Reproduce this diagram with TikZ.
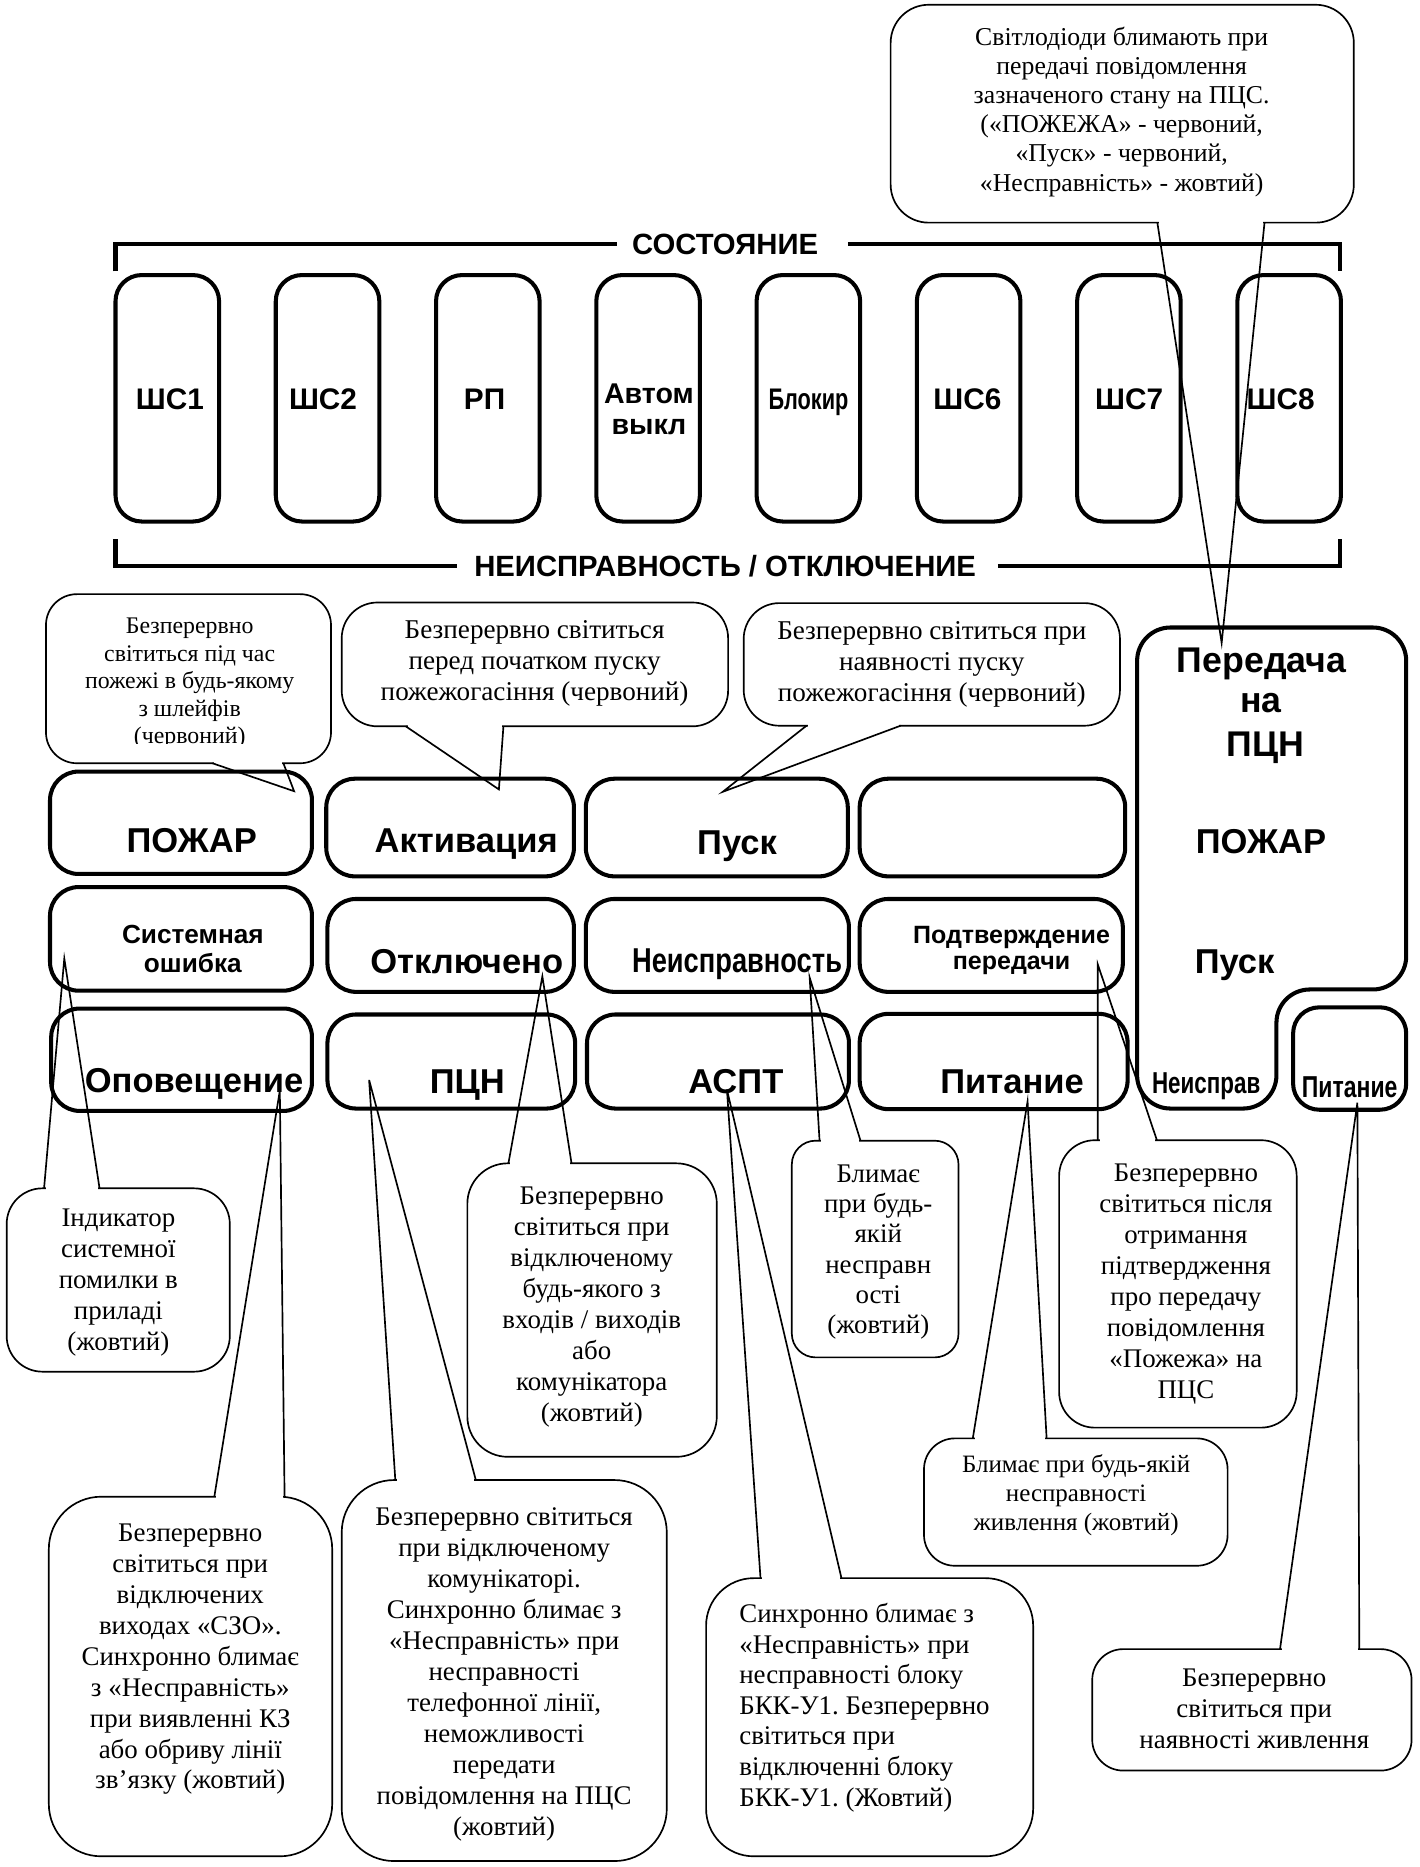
\documentclass[tikz,border=0pt]{standalone}
\usepackage{fontspec}
\setmainfont{Liberation Serif}
\setsansfont{Liberation Sans}
\usepackage{graphicx}
\usetikzlibrary{calc}
\frenchspacing
\newcommand\ctail[5]{%
  \draw[gap] ($(#1.#2 west)+(#3+1.5,0)$) -- ($(#1.#2 west)+(#4-1.5,0)$);
  \draw[tail] ($(#1.#2 west)+(#3,0)$) -- (#5) -- ($(#1.#2 west)+(#4,0)$);}
\begin{document}
\begin{tikzpicture}[x=0.5pt,y=-0.5pt,
  wh/.style 2 args={minimum width=#1*0.5pt, minimum height=#2*0.5pt},
  box/.style={draw, line width=1.7pt, rounded corners=12pt, inner sep=0pt, outer sep=0pt},
  pill/.style={box, rounded corners=11pt},
  brk/.style={line width=1.7pt},
  call/.style={draw, line width=0.7pt, inner sep=0pt, outer sep=0pt},
  tail/.style={line width=0.7pt},
  gap/.style={white, line width=2pt},
  ct/.style={font=\fontsize{11.3}{13}\selectfont, align=center, inner sep=0pt},
  lb/.style={font=\sffamily\bfseries\fontsize{14.5}{16}\selectfont, inner sep=0pt, anchor=base},
  lbp/.style={font=\sffamily\bfseries\fontsize{15}{16}\selectfont, inner sep=0pt, anchor=base},
  lbm/.style={font=\sffamily\bfseries\fontsize{12.5}{14}\selectfont, inner sep=0pt, anchor=base},
  lbn/.style={font=\sffamily\bfseries\fontsize{12.7}{14}\selectfont, inner sep=0pt, anchor=base},
  lbs/.style={font=\sffamily\bfseries\fontsize{11}{12}\selectfont, inner sep=0pt, anchor=base},
  lbx/.style={font=\sffamily\bfseries\fontsize{10.5}{12}\selectfont, inner sep=0pt, anchor=base},
  hdr/.style={font=\sffamily\bfseries\fontsize{12.3}{14}\selectfont, inner sep=0pt, anchor=base}]
\useasboundingbox (0,0) rectangle (1192,1568);

% ---------- bracket with headers ----------
\draw[brk] (97,228) -- (97,205) -- (518,205);
\draw[brk] (712,205) -- (1125,205) -- (1125,228);
\node[hdr] (hSost) at (609,213.8) {СОСТОЯНИЕ};
\draw[brk] (97,453) -- (97,475) -- (384,475);
\draw[brk] (838,475) -- (1125,475) -- (1125,453);
\node[hdr] (hNeisp) at (609,484) {НЕИСПРАВНОСТЬ / ОТКЛЮЧЕНИЕ};

% ---------- top pills ----------
\node[pill, wh={87}{207}] (s1) at (140.5,334.5) {};
\node[pill, wh={87}{207}] (s2) at (275.1,334.5) {};
\node[pill, wh={87}{207}] (s3) at (409.7,334.5) {};
\node[pill, wh={87}{207}] (s4) at (544.3,334.5) {};
\node[pill, wh={87}{207}] (s5) at (678.9,334.5) {};
\node[pill, wh={87}{207}] (s6) at (813.5,334.5) {};
\node[pill, wh={87}{207}] (s7) at (948.1,334.5) {};
\node[pill, wh={87}{207}] (s8) at (1082.7,334.5) {};
\node[lbm] (ls1) at (142.7,344) {ШС1};
\node[lbm] (ls2) at (271.3,344) {ШС2};
\node[lbm] (ls3) at (407,344) {РП};
\node[lbm, font=\sffamily\bfseries\fontsize{12}{14}\selectfont] (ls4a) at (545,339.2) {Автом};
\node[lbm, font=\sffamily\bfseries\fontsize{12}{14}\selectfont] (ls4b) at (545,365) {выкл};
\node[lbm] (ls5) at (679,344) {\scalebox{0.73}[1]{Блокир}};
\node[lbm] (ls6) at (812.4,344) {ШС6};
\node[lbm] (ls7) at (948.3,344) {ШС7};
\node[lbm] (ls8) at (1075.5,344) {ШС8};

% ---------- indicator grid ----------
\node[box, wh={220}{86}] (r11) at (152,691) {};
\node[box, wh={208}{82}] (r12) at (378,695) {};
\node[box, wh={220}{82}] (r13) at (602,695) {};
\node[box, wh={223}{82}] (r14) at (833.5,695) {};
\node[box, wh={220}{87}] (r21) at (152,788.5) {};
\node[box, wh={207}{78}] (r22) at (378.5,794) {};
\node[box, wh={221}{78}] (r23) at (602.5,794) {};
\node[box, wh={221}{78}] (r24) at (832.5,794) {};
\node[box, wh={219}{86}] (r31) at (152.5,890) {};
\node[box, wh={208}{79}] (r32) at (379,891.5) {};
\node[box, wh={220}{79}] (r33) at (603,891.5) {};
\node[box, wh={225}{80}] (r34) at (834.5,891.5) {};

\node[lb] (l11) at (161,716) {ПОЖАР};
\node[lb] (l12) at (391.5,716) {Активация};
\node[lb] (l13) at (619,717.5) {Пуск};
\node[lbs] (l21a) at (162,792.3) {Системная};
\node[lbs] (l21b) at (162,816.4) {ошибка};
\node[lb] (l22) at (392,817.4) {Отключено};
\node[lb] (l23) at (619,817) {\scalebox{0.79}[1]{Неисправность}};
\node[lbx] (l24a) at (849.5,792.5) {Подтверждение};
\node[lbx] (l24b) at (849.5,814.2) {передачи};
\node[lb] (l31) at (163,917.4) {Оповещение};
\node[lb] (l32) at (392.5,918) {ПЦН};
\node[lb] (l33) at (618,918) {АСПТ};
\node[lb] (l34) at (850,918) {Питание};

% ---------- transmission block ----------
\draw[line width=1.7pt, rounded corners=14pt] (955,527) -- (1181,527) -- (1181,831)
   -- (1072,831) -- (1072,931) -- (955,931) -- cycle;
\node[box, rounded corners=11pt, wh={95}{86}] (rPit) at (1133.5,889) {};
\node[lbp] (p1) at (1059.5,565) {Передача};
\node[lbp] (p2) at (1059,598.3) {на};
\node[lbp] (p3) at (1063,635.7) {ПЦН};
\node[lb] (p4) at (1059,716.4) {ПОЖАР};
\node[lb, anchor=base west] (p5) at (1003,817.4) {Пуск};
\node[lbn] (p6) at (1013,918) {\scalebox{0.74}[1]{Неисправ}};
\node[lbn] (p7) at (1133.5,922) {\scalebox{0.76}[1]{Питание}};

% ---------- tip points ----------
\coordinate (pTop) at (1026,540);
\coordinate (pPozh) at (247,664.5);
\coordinate (pAkt) at (419,663);
\coordinate (pPusk) at (607,665);
\coordinate (pSys) at (54,805);
\coordinate (pOpov) at (235,916);
\coordinate (pPcn) at (310,907);
\coordinate (pOtkl) at (455.5,820);
\coordinate (pNeisp) at (680,821);
\coordinate (pPodt) at (922,810);
\coordinate (pPit) at (863,925);
\coordinate (pPit2) at (1140,926);
\coordinate (pAspt) at (610.5,915);

% ---------- callouts ----------
\node[call, rounded corners=16pt, wh={389}{183}] (cTop) at (942.5,95.5) {};
\node[ct, font=\fontsize{10.8}{12.2}\selectfont] (tTop) at (942,94)
  {Світлодіоди блимають при\\передачі повідомлення\\зазначеного стану на ПЦС.\\(«ПОЖЕЖА» - червоний,\\«Пуск» - червоний,\\«Несправність» - жовтий)};

\node[call, rounded corners=13pt, wh={239.4}{142}] (cPozh) at (158.3,570) {};
\node[ct, font=\fontsize{10}{11.5}\selectfont] (tPozh) at (159.3,574)
  {Безперервно\\світиться під час\\пожежі в будь-якому\\з шлейфів\\(червоний)};
\fill[white] (90,624.5) rectangle (230,639.3);

\node[call, rounded corners=15pt, wh={324.5}{104}] (cAkt) at (449.25,558) {};
\node[ct, font=\fontsize{11.4}{13.1}\selectfont] (tAkt) at (449,557)
  {Безперервно світиться\\перед початком пуску\\пожежогасіння (червоний)};

\node[call, rounded corners=15pt, wh={316}{103}] (cPusk) at (782.6,558) {};
\node[ct, font=\fontsize{11.4}{13.1}\selectfont] (tPusk) at (782.6,557.8)
  {Безперервно світиться при\\наявності пуску\\пожежогасіння (червоний)};

\node[call, rounded corners=15pt, wh={187.4}{154}] (cInd) at (99.3,1075) {};
\node[ct] (tInd) at (99.4,1077) {Індикатор\\системної\\помилки в\\приладі\\(жовтий)};

\node[call, rounded corners=22pt, wh={238}{302}] (cOpov) at (160,1408) {};
\node[ct] (tOpov) at (159.8,1393.5)
  {Безперервно\\світиться при\\відключених\\виходах «СЗО».\\Синхронно блимає\\з «Несправність»\\при виявленні КЗ\\або обриву лінії\\зв'язку (жовтий)};

\node[call, rounded corners=22pt, wh={273}{320}] (cPcn) at (423.5,1403) {};
\node[ct] (tPcn) at (423.4,1406.2)
  {Безперервно світиться\\при відключеному\\комунікаторі.\\Синхронно блимає з\\«Несправність» при\\несправності\\телефонної лінії,\\неможливості\\передати\\повідомлення на ПЦС\\(жовтий)};

\node[call, rounded corners=17pt, wh={209.5}{246.5}] (cOtkl) at (497.25,1100.25) {};
\node[ct] (tOtkl) at (497,1098)
  {Безперервно\\світиться при\\відключеному\\будь-якого з\\входів / виходів\\або\\комунікатора\\(жовтий)};

\node[call, rounded corners=10pt, wh={140}{182}] (cNeisp) at (735,1049) {};
\node[ct, font=\fontsize{11.3}{12.75}\selectfont] (tNeisp) at (737.6,1051.5)
  {Блимає\\при будь-\\якій\\несправн\\ості\\(жовтий)};

\node[call, rounded corners=15pt, wh={199.5}{241.4}] (cPodt) at (989.25,1078.3) {};
\node[ct] (tPodt) at (996,1078.6)
  {Безперервно\\світиться після\\отримання\\підтвердження\\про передачу\\повідомлення\\«Пожежа» на\\ПЦС};

\node[call, rounded corners=13pt, wh={255}{107}] (cPit) at (903.5,1261.5) {};
\node[ct, font=\fontsize{10.5}{12.2}\selectfont] (tPit) at (903.8,1256)
  {Блимає при будь-якій\\несправності\\живлення (жовтий)};

\node[call, rounded corners=13pt, wh={268.2}{102}] (cPit2) at (1051.4,1436) {};
\node[ct] (tPit2) at (1053.4,1434.8)
  {Безперервно\\світиться при\\наявності живлення};

\node[call, rounded corners=20pt, wh={274.7}{233.6}] (cAspt) at (730.35,1442.2) {};
\node[ct, align=left, anchor=west, font=\fontsize{11.3}{12.85}\selectfont] (tAspt) at (620.5,1434)
  {Синхронно блимає з\\«Несправність» при\\несправності блоку\\БКК-У1. Безперервно\\світиться при\\відключенні блоку\\БКК-У1. (Жовтий)};

% ---------- tails ----------
\ctail{cTop}{south}{224}{314}{pTop}
\ctail{cPozh}{south}{139.8}{199.4}{pPozh}
\ctail{cAkt}{south}{53.8}{135.8}{pAkt}
\ctail{cPusk}{south}{52.7}{131.7}{pPusk}
\ctail{cInd}{north}{31.4}{78}{pSys}
\ctail{cOpov}{north}{139}{198}{pOpov}
\ctail{cPcn}{north}{45}{112.6}{pPcn}
\ctail{cOtkl}{north}{34.5}{87.5}{pOtkl}
\ctail{cNeisp}{north}{23.3}{57.7}{pNeisp}
\ctail{cPodt}{north}{32.5}{82.1}{pPodt}
\ctail{cPit}{north}{41}{103}{pPit}
\ctail{cPit2}{north}{157.7}{224.3}{pPit2}
\ctail{cAspt}{north}{45.7}{113.7}{pAspt}
\end{tikzpicture}
\end{document}
